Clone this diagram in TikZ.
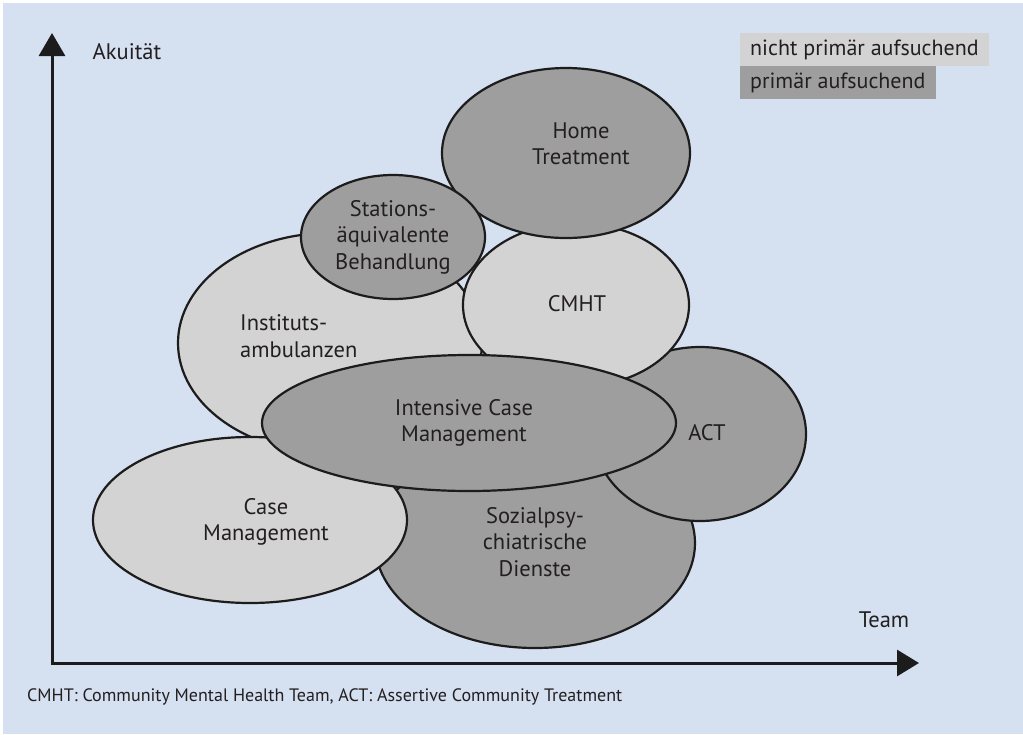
\documentclass[tikz,border=0pt]{standalone}
\usepackage{fontspec}
\setmainfont{PT Sans}
\usetikzlibrary{shapes.geometric,arrows.meta}
\definecolor{bgblue}{HTML}{D5E0F1}
\definecolor{lightg}{HTML}{D3D3D3}
\definecolor{darkg}{HTML}{9E9E9E}
\definecolor{txt}{HTML}{231F20}
\definecolor{edge}{HTML}{1C1C1C}
\begin{document}
\begin{tikzpicture}[x=1pt,y=-1pt,
  blob/.style={ellipse, draw=edge, line width=2.2pt, inner sep=0pt},
  lite/.style={blob, fill=lightg},
  dark/.style={blob, fill=darkg},
  lbl/.style={text=txt, font=\fontsize{22.5}{26.5}\selectfont, align=center, inner sep=0pt},
  legend/.style={text=txt, font=\fontsize{22}{24}\selectfont, anchor=west, inner xsep=10pt, inner ysep=0pt, minimum height=33pt},
  axis/.style={draw=edge, line width=3pt, line join=miter}
]
\useasboundingbox (0,0) rectangle (1023,734);
\fill[bgblue] (3,3) rectangle (1023,734);

% ellipses, back to front
\node[lite, minimum width=304pt, minimum height=220pt] (inst) at (330,343) {};
\node[dark, minimum width=320pt, minimum height=210pt] (sozi) at (535,543) {};
\node[dark, minimum width=212pt, minimum height=174pt] (act) at (700,434) {};
\node[lite, minimum width=226pt, minimum height=164pt] (cmht) at (576,305) {};
\node[dark, minimum width=248pt, minimum height=170pt] (home) at (566,153) {};
\node[dark, minimum width=184pt, minimum height=124pt] (stat) at (393,237) {};
\node[lite, minimum width=314pt, minimum height=166pt] (cm) at (250,520) {};
\node[dark, minimum width=414pt, minimum height=136pt] (icm) at (469,423) {};

% labels
\node[lbl, anchor=west, align=left] (tinst) at (240,336) {Instituts-\\ambulanzen};
\node[lbl] (tstat) at (393,237) {Stations-\\äquivalente\\Behandlung};
\node[lbl] (thome) at (581,144) {Home\\Treatment};
\node[lbl] (tcmht) at (577,304) {CMHT};
\node[lbl] (tact) at (707,433) {ACT};
\node[lbl] (ticm) at (464,423) {Intensive Case\\Management};
\node[lbl] (tcm) at (266,522) {Case\\Management};
\node[lbl] (tsozi) at (535,542) {Sozialpsy-\\chiatrische\\Dienste};

% axes
\coordinate (origin) at (52,663);
\coordinate (ytip) at (52,33);
\coordinate (xtip) at (919,663);
\draw[axis, {Triangle[length=23pt,width=26pt]}-{Triangle[length=22pt,width=26pt]}] (ytip) -- (origin) -- (xtip);
\node[lbl] (akui) at (127,52) {Akuität};
\node[lbl] (team) at (884,620) {Team};

% legend
\node[legend, fill=lightg] (leg1) at (740,49.5) {nicht primär aufsuchend};
\node[legend, fill=darkg] (leg2) at (740,82.5) {primär aufsuchend};

% caption
\node[anchor=west, inner sep=0pt, text=txt, font=\fontsize{18}{20}\selectfont] (cap) at (27,697) {CMHT: Community Mental Health Team, ACT: Assertive Community Treatment};
\end{tikzpicture}
\end{document}
